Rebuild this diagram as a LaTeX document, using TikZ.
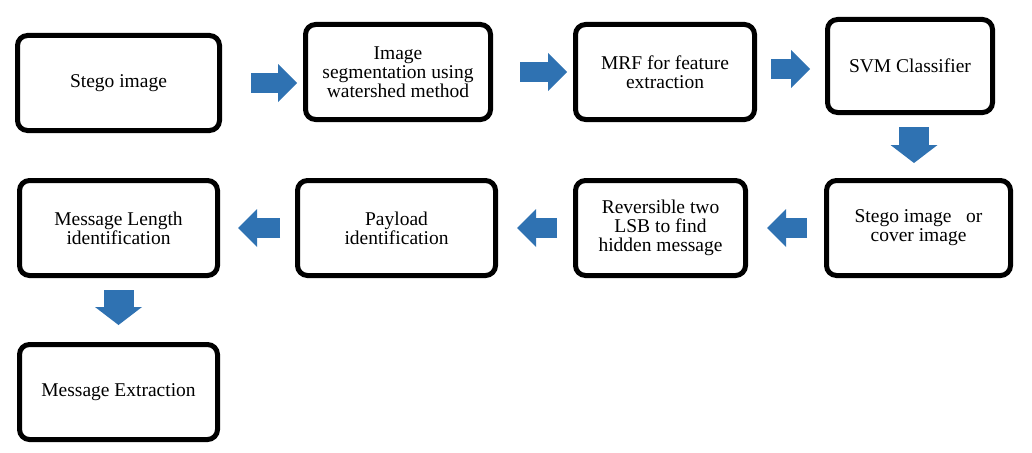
\documentclass[tikz,border=0pt]{standalone}
\usepackage{fontspec}
\setmainfont{Liberation Serif}
\usetikzlibrary{arrows.meta}
\definecolor{flowblue}{RGB}{47,114,178}

\begin{document}
\begin{tikzpicture}[x=1pt, y=-1pt,
  stage/.style={draw, line width=5pt, rounded corners=10pt, minimum height=95pt,
    align=center, font=\fontsize{19.5}{19}\selectfont},
  flow/.style={draw=flowblue, line width=20pt,
    -{Triangle[length=19pt, width=38pt, line width=0pt]}},
  flowdown/.style={flow, line width=30pt,
    -{Triangle[length=18pt, width=47pt, line width=0pt]}}]
  \useasboundingbox (0,0) rectangle (1032,452);

  % Top row
  \node[stage, minimum width=202pt] (stego) at (118.5,83) {Stego image};
  \node[stage, minimum width=185pt] (segm) at (398,72) {Image\\segmentation using\\watershed method};
  \node[stage, minimum width=179pt] (mrf) at (665,72) {MRF for feature\\extraction};
  \node[stage, minimum width=165pt, minimum height=93pt] (svm) at (910,66) {SVM Classifier};

  % Middle row
  \node[stage, minimum width=184pt] (result) at (918.5,228) {Stego image\ \ \ or\\cover image};
  \node[stage, minimum width=170pt] (lsb) at (660.5,228) {Reversible two\\LSB to find\\hidden message};
  \node[stage, minimum width=198pt] (payload) at (396.5,228) {Payload\\identification};
  \node[stage, minimum width=198pt] (length) at (118.5,228) {Message Length\\identification};

  % Bottom row
  \node[stage, minimum width=198pt] (extract) at (118.5,392) {Message Extraction};

  % Block arrows
  \draw[flow, shorten <=29pt, shorten >=6pt] (stego.east) -- (stego.east -| segm.west);
  \draw[flow, shorten <=27pt, shorten >=6pt] (segm.east) -- (mrf.west);
  \draw[flow, shorten <=14pt, shorten >=15pt] ([yshift=3pt]mrf.east) -- ([yshift=3pt]mrf.east -| svm.west);
  \draw[flowdown, shorten <=12pt, shorten >=15pt] ([xshift=4pt]svm.south) -- ([xshift=4pt]svm.south |- result.north);
  \draw[flow, shorten <=17pt, shorten >=19pt] (result.west) -- (lsb.east);
  \draw[flow, shorten <=16pt, shorten >=19pt] (lsb.west) -- (payload.east);
  \draw[flow, shorten <=15pt, shorten >=18pt] (payload.west) -- (length.east);
  \draw[flowdown, shorten <=12pt, shorten >=17pt] (length.south) -- (extract.north);
\end{tikzpicture}
\end{document}
